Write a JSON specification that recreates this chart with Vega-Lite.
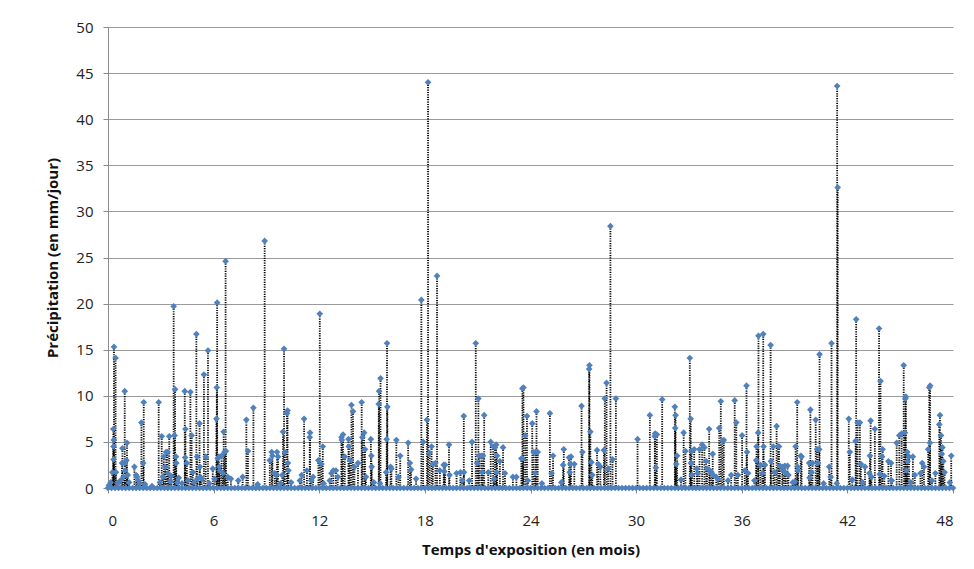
{
  "$schema": "https://vega.github.io/schema/vega-lite/v6.json",
  "width": 845,
  "height": 461,
  "autosize": "none",
  "padding": {"left": 108, "top": 27, "right": 21, "bottom": 81},
  "background": "white",
  "config": {
    "view": {"stroke": null},
    "font": "Open Sans",
    "axis": {"labelFont": "Open Sans", "titleFont": "Open Sans", "labelColor": "#222", "titleColor": "#111"}
  },
  "datasets": {
    "rain": [
      {"mois":0.05,"precip":0.3},{"mois":0.15,"precip":0.6},{"mois":0.25,"precip":1.7},{"mois":0.3,"precip":6.4},{"mois":0.31,"precip":4.5},{"mois":0.32,"precip":3.1},{"mois":0.33,"precip":5.2},{"mois":0.34,"precip":15.3},{"mois":0.43,"precip":14.1},{"mois":0.45,"precip":1.7},{"mois":0.55,"precip":0.5},{"mois":0.7,"precip":0.8},{"mois":0.8,"precip":2.7},{"mois":0.82,"precip":4.3},{"mois":0.88,"precip":1.2},{"mois":0.95,"precip":10.5},{"mois":0.96,"precip":2.7},{"mois":0.97,"precip":1.9},{"mois":1.05,"precip":3.0},{"mois":1.08,"precip":4.9},{"mois":1.12,"precip":1.4},{"mois":1.2,"precip":0.6},{"mois":1.5,"precip":2.3},{"mois":1.6,"precip":1.4},{"mois":1.65,"precip":1.2},{"mois":1.72,"precip":0.8},{"mois":1.8,"precip":0.5},{"mois":1.9,"precip":7.1},{"mois":2.0,"precip":2.7},{"mois":2.03,"precip":9.3},{"mois":2.1,"precip":0.4},{"mois":2.5,"precip":0.2},
      {"mois":2.88,"precip":9.3},{"mois":2.95,"precip":0.6},{"mois":3.05,"precip":5.6},{"mois":3.12,"precip":1.2},{"mois":3.17,"precip":3.4},{"mois":3.25,"precip":2.3},{"mois":3.3,"precip":3.9},{"mois":3.38,"precip":3.9},{"mois":3.4,"precip":1.6},{"mois":3.48,"precip":5.6},{"mois":3.55,"precip":0.7},{"mois":3.6,"precip":1.3},{"mois":3.73,"precip":19.7},{"mois":3.78,"precip":5.7},{"mois":3.81,"precip":10.7},{"mois":3.86,"precip":3.4},{"mois":3.88,"precip":2.7},{"mois":3.95,"precip":0.6},{"mois":4.02,"precip":1.1},{"mois":4.2,"precip":0.5},{"mois":4.36,"precip":10.5},{"mois":4.38,"precip":3.3},{"mois":4.4,"precip":6.4},{"mois":4.48,"precip":2.7},{"mois":4.55,"precip":0.8},{"mois":4.68,"precip":10.4},{"mois":4.75,"precip":5.7},{"mois":4.82,"precip":1.7},{"mois":4.9,"precip":0.6},{"mois":5.02,"precip":16.7},{"mois":5.06,"precip":3.4},{"mois":5.08,"precip":1.0},{"mois":5.2,"precip":7.0},{"mois":5.22,"precip":2.3},{"mois":5.25,"precip":1.2},{"mois":5.32,"precip":1.0},{"mois":5.45,"precip":12.3},{"mois":5.55,"precip":3.4},{"mois":5.68,"precip":14.9},{"mois":5.75,"precip":0.5},{"mois":5.95,"precip":2.1},{"mois":6.05,"precip":1.0},{"mois":6.16,"precip":7.5},{"mois":6.18,"precip":10.9},{"mois":6.2,"precip":20.1},{"mois":6.24,"precip":3.2},{"mois":6.3,"precip":3.4},{"mois":6.32,"precip":2.3},{"mois":6.35,"precip":1.9},{"mois":6.45,"precip":3.5},{"mois":6.52,"precip":1.6},{"mois":6.57,"precip":6.1},{"mois":6.62,"precip":3.9},{"mois":6.68,"precip":24.6},{"mois":6.7,"precip":4.0},{"mois":6.8,"precip":1.2},{"mois":6.98,"precip":1.0},
      {"mois":7.4,"precip":0.8},{"mois":7.65,"precip":1.2},{"mois":7.86,"precip":7.4},{"mois":7.95,"precip":4.0},{"mois":8.26,"precip":8.7},{"mois":8.5,"precip":0.4},{"mois":8.9,"precip":26.8},{"mois":9.19,"precip":3.0},{"mois":9.3,"precip":3.9},{"mois":9.34,"precip":3.5},{"mois":9.47,"precip":1.6},{"mois":9.56,"precip":1.4},{"mois":9.6,"precip":3.9},{"mois":9.66,"precip":3.4},{"mois":9.8,"precip":0.5},{"mois":9.9,"precip":1.4},{"mois":9.94,"precip":6.1},{"mois":10.0,"precip":15.1},{"mois":10.05,"precip":3.9},{"mois":10.17,"precip":8.1},{"mois":10.2,"precip":8.4},{"mois":10.22,"precip":2.7},{"mois":10.25,"precip":1.9},{"mois":10.4,"precip":0.6},{"mois":10.9,"precip":0.8},{"mois":11.0,"precip":1.4},{"mois":11.14,"precip":7.5},{"mois":11.3,"precip":1.9},{"mois":11.46,"precip":5.5},{"mois":11.48,"precip":6.0},{"mois":11.55,"precip":0.8},{"mois":11.65,"precip":1.2},{"mois":11.95,"precip":3.0},{"mois":12.03,"precip":18.9},{"mois":12.12,"precip":2.6},{"mois":12.2,"precip":4.5},{"mois":12.25,"precip":0.5},{"mois":12.6,"precip":0.8},{"mois":12.69,"precip":1.6},{"mois":12.8,"precip":1.9},{"mois":12.95,"precip":1.9},{"mois":13.05,"precip":1.2},{"mois":13.26,"precip":5.5},{"mois":13.28,"precip":5.2},{"mois":13.35,"precip":5.8},{"mois":13.45,"precip":3.4},{"mois":13.66,"precip":5.3},{"mois":13.68,"precip":4.5},{"mois":13.75,"precip":3.0},{"mois":13.83,"precip":9.0},{"mois":13.92,"precip":8.3},{"mois":14.0,"precip":2.3},{"mois":14.2,"precip":2.7},{"mois":14.41,"precip":9.3},{"mois":14.45,"precip":5.5},{"mois":14.55,"precip":6.0},{"mois":14.6,"precip":4.2},{"mois":14.65,"precip":1.2},{"mois":14.93,"precip":5.3},{"mois":14.96,"precip":3.5},{"mois":14.98,"precip":2.3},{"mois":15.1,"precip":0.6},{"mois":15.38,"precip":9.1},{"mois":15.4,"precip":10.5},{"mois":15.45,"precip":0.5},{"mois":15.48,"precip":11.9},{"mois":15.8,"precip":1.7},{"mois":15.83,"precip":5.3},{"mois":15.85,"precip":15.7},{"mois":15.87,"precip":8.8},{"mois":16.05,"precip":2.3},{"mois":16.1,"precip":2.1},{"mois":16.38,"precip":5.2},{"mois":16.5,"precip":1.2},{"mois":16.6,"precip":3.5},{"mois":17.05,"precip":4.9},{"mois":17.15,"precip":2.7},{"mois":17.22,"precip":2.0},{"mois":17.5,"precip":1.0},{"mois":17.8,"precip":20.4},{"mois":17.9,"precip":5.0},{"mois":18.12,"precip":7.4},{"mois":18.18,"precip":44.0},{"mois":18.27,"precip":3.8},{"mois":18.38,"precip":4.5},{"mois":18.45,"precip":2.6},{"mois":18.6,"precip":2.7},{"mois":18.69,"precip":23.0},{"mois":18.85,"precip":1.9},
      {"mois":19.07,"precip":2.5},{"mois":19.1,"precip":1.8},{"mois":19.15,"precip":2.5},{"mois":19.37,"precip":4.7},{"mois":19.4,"precip":1.4},{"mois":19.8,"precip":1.6},{"mois":20.02,"precip":1.7},{"mois":20.12,"precip":0.8},{"mois":20.21,"precip":7.8},{"mois":20.22,"precip":1.7},{"mois":20.52,"precip":0.8},{"mois":20.68,"precip":5.0},{"mois":20.89,"precip":15.7},{"mois":20.97,"precip":2.7},{"mois":21.04,"precip":9.7},{"mois":21.08,"precip":3.5},{"mois":21.2,"precip":3.5},{"mois":21.25,"precip":1.7},{"mois":21.3,"precip":3.5},{"mois":21.37,"precip":7.9},{"mois":21.6,"precip":1.7},{"mois":21.74,"precip":5.0},{"mois":21.88,"precip":4.5},{"mois":21.93,"precip":1.0},{"mois":21.98,"precip":4.4},{"mois":22.05,"precip":4.7},{"mois":22.08,"precip":1.7},{"mois":22.1,"precip":3.5},{"mois":22.26,"precip":2.9},{"mois":22.44,"precip":4.4},{"mois":22.55,"precip":1.6},{"mois":23.0,"precip":1.2},{"mois":23.2,"precip":1.2},{"mois":23.48,"precip":3.2},{"mois":23.54,"precip":10.8},{"mois":23.57,"precip":3.2},{"mois":23.6,"precip":10.9},{"mois":23.7,"precip":5.7},{"mois":23.8,"precip":7.8},{"mois":23.85,"precip":0.8},{"mois":24.1,"precip":7.0},{"mois":24.18,"precip":3.9},{"mois":24.26,"precip":1.6},{"mois":24.3,"precip":3.9},{"mois":24.34,"precip":8.3},{"mois":24.41,"precip":3.9},{"mois":24.65,"precip":0.5},{"mois":25.1,"precip":8.1},{"mois":25.2,"precip":1.6},{"mois":25.28,"precip":3.5},{"mois":25.75,"precip":0.6},{"mois":25.85,"precip":2.5},{"mois":25.89,"precip":4.2},{"mois":26.19,"precip":3.3},{"mois":26.23,"precip":1.7},{"mois":26.26,"precip":2.6},{"mois":26.3,"precip":3.4},{"mois":26.49,"precip":2.6},{"mois":26.9,"precip":8.9},{"mois":26.95,"precip":3.9},{"mois":27.33,"precip":12.9},{"mois":27.35,"precip":13.3},{"mois":27.4,"precip":6.1},{"mois":27.46,"precip":2.8},{"mois":27.51,"precip":1.4},{"mois":27.78,"precip":4.1},{"mois":27.85,"precip":2.6},{"mois":27.97,"precip":2.3},{"mois":28.17,"precip":4.1},{"mois":28.22,"precip":9.7},{"mois":28.32,"precip":11.4},{"mois":28.41,"precip":2.1},{"mois":28.54,"precip":28.4},{"mois":28.66,"precip":3.1},{"mois":28.85,"precip":9.7},
      {"mois":30.08,"precip":5.3},{"mois":30.78,"precip":7.9},{"mois":31.06,"precip":5.6},{"mois":31.08,"precip":5.9},{"mois":31.12,"precip":2.2},{"mois":31.18,"precip":5.8},{"mois":31.48,"precip":9.6},{"mois":32.2,"precip":8.8},{"mois":32.22,"precip":6.5},{"mois":32.24,"precip":7.9},{"mois":32.28,"precip":2.6},{"mois":32.33,"precip":3.5},{"mois":32.55,"precip":0.9},{"mois":32.7,"precip":6.0},{"mois":32.8,"precip":4.0},{"mois":33.05,"precip":14.1},{"mois":33.1,"precip":7.5},{"mois":33.12,"precip":2.7},{"mois":33.15,"precip":4.0},{"mois":33.17,"precip":1.4},{"mois":33.3,"precip":4.2},{"mois":33.45,"precip":2.1},{"mois":33.5,"precip":1.6},{"mois":33.6,"precip":4.2},{"mois":33.75,"precip":4.7},{"mois":33.88,"precip":4.4},{"mois":33.98,"precip":2.9},{"mois":34.03,"precip":2.1},{"mois":34.15,"precip":6.4},{"mois":34.19,"precip":1.9},{"mois":34.28,"precip":1.7},{"mois":34.35,"precip":3.7},{"mois":34.38,"precip":1.4},{"mois":34.55,"precip":1.2},{"mois":34.65,"precip":1.0},{"mois":34.72,"precip":6.5},{"mois":34.81,"precip":9.4},{"mois":34.9,"precip":5.1},{"mois":34.98,"precip":5.2},{"mois":35.22,"precip":0.8},{"mois":35.4,"precip":1.4},{"mois":35.6,"precip":9.5},{"mois":35.69,"precip":7.1},{"mois":35.78,"precip":1.4},{"mois":36.02,"precip":5.7},{"mois":36.17,"precip":1.9},{"mois":36.27,"precip":11.1},{"mois":36.3,"precip":3.9},{"mois":36.36,"precip":1.6},{"mois":36.72,"precip":0.8},{"mois":36.82,"precip":3.0},{"mois":36.84,"precip":4.5},{"mois":36.93,"precip":6.0},{"mois":36.95,"precip":16.5},{"mois":37.06,"precip":2.5},{"mois":37.17,"precip":1.6},{"mois":37.22,"precip":16.7},{"mois":37.24,"precip":4.5},{"mois":37.32,"precip":2.5},{"mois":37.64,"precip":15.5},{"mois":37.66,"precip":2.9},{"mois":37.79,"precip":4.5},{"mois":37.87,"precip":1.7},{"mois":37.98,"precip":6.7},{"mois":38.07,"precip":4.5},{"mois":38.12,"precip":4.5},{"mois":38.17,"precip":2.4},{"mois":38.3,"precip":2.3},{"mois":38.36,"precip":1.9},{"mois":38.45,"precip":2.4},{"mois":38.5,"precip":1.6},{"mois":38.6,"precip":2.4},{"mois":38.65,"precip":1.4},{"mois":38.9,"precip":0.6},{"mois":39.02,"precip":0.7},{"mois":39.06,"precip":4.5},{"mois":39.15,"precip":9.3},{"mois":39.17,"precip":2.3},{"mois":39.2,"precip":1.9},{"mois":39.35,"precip":3.5},{"mois":39.4,"precip":3.4},{"mois":39.83,"precip":2.7},{"mois":39.85,"precip":1.1},{"mois":39.9,"precip":8.5},{"mois":39.96,"precip":1.7},{"mois":40.02,"precip":2.7},{"mois":40.2,"precip":7.4},{"mois":40.28,"precip":4.2},{"mois":40.33,"precip":2.7},{"mois":40.4,"precip":4.2},{"mois":40.42,"precip":14.5},{"mois":40.65,"precip":0.5},{"mois":40.97,"precip":2.3},{"mois":41.05,"precip":1.2},{"mois":41.1,"precip":15.7},{"mois":41.4,"precip":0.5},{"mois":41.42,"precip":43.6},{"mois":41.45,"precip":32.6},
      {"mois":42.08,"precip":7.5},{"mois":42.14,"precip":3.9},{"mois":42.28,"precip":0.9},{"mois":42.47,"precip":5.1},{"mois":42.5,"precip":18.3},{"mois":42.58,"precip":7.1},{"mois":42.71,"precip":7.1},{"mois":42.77,"precip":2.6},{"mois":42.87,"precip":0.6},{"mois":43.0,"precip":2.3},{"mois":43.25,"precip":1.6},{"mois":43.28,"precip":3.5},{"mois":43.32,"precip":7.3},{"mois":43.37,"precip":1.2},{"mois":43.56,"precip":6.4},{"mois":43.8,"precip":17.3},{"mois":43.84,"precip":1.5},{"mois":43.88,"precip":11.6},{"mois":43.97,"precip":3.4},{"mois":44.0,"precip":4.2},{"mois":44.1,"precip":1.3},{"mois":44.33,"precip":2.9},{"mois":44.48,"precip":2.7},{"mois":44.52,"precip":0.8},{"mois":44.8,"precip":4.9},{"mois":44.95,"precip":5.7},{"mois":45.08,"precip":5.9},{"mois":45.2,"precip":13.3},{"mois":45.27,"precip":6.0},{"mois":45.3,"precip":9.7},{"mois":45.32,"precip":9.9},{"mois":45.36,"precip":1.9},{"mois":45.4,"precip":3.9},{"mois":45.42,"precip":2.9},{"mois":45.5,"precip":3.4},{"mois":45.6,"precip":0.6},{"mois":45.72,"precip":3.4},{"mois":45.83,"precip":1.4},{"mois":46.15,"precip":1.6},{"mois":46.25,"precip":2.7},{"mois":46.35,"precip":2.3},{"mois":46.59,"precip":4.2},{"mois":46.65,"precip":10.9},{"mois":46.69,"precip":4.9},{"mois":46.7,"precip":11.1},{"mois":46.8,"precip":0.8},{"mois":47.0,"precip":1.6},{"mois":47.22,"precip":6.9},{"mois":47.26,"precip":7.9},{"mois":47.32,"precip":5.7},{"mois":47.36,"precip":3.7},{"mois":47.4,"precip":4.4},{"mois":47.45,"precip":2.9},{"mois":47.52,"precip":1.7},{"mois":47.82,"precip":0.6},{"mois":47.9,"precip":3.5}
    ],
    "zero": [
      {"mois":0,"precip":0},{"mois":0.2,"precip":0},{"mois":0.4,"precip":0},{"mois":0.6,"precip":0},{"mois":0.8,"precip":0},{"mois":1,"precip":0},{"mois":1.2,"precip":0},{"mois":1.4,"precip":0},{"mois":1.6,"precip":0},{"mois":1.8,"precip":0},
      {"mois":2,"precip":0},{"mois":2.2,"precip":0},{"mois":2.4,"precip":0},{"mois":2.6,"precip":0},{"mois":2.8,"precip":0},{"mois":3,"precip":0},{"mois":3.2,"precip":0},{"mois":3.4,"precip":0},{"mois":3.6,"precip":0},{"mois":3.8,"precip":0},
      {"mois":4,"precip":0},{"mois":4.2,"precip":0},{"mois":4.4,"precip":0},{"mois":4.6,"precip":0},{"mois":4.8,"precip":0},{"mois":5,"precip":0},{"mois":5.2,"precip":0},{"mois":5.4,"precip":0},{"mois":5.6,"precip":0},{"mois":5.8,"precip":0},
      {"mois":6,"precip":0},{"mois":6.2,"precip":0},{"mois":6.4,"precip":0},{"mois":6.6,"precip":0},{"mois":6.8,"precip":0},{"mois":7,"precip":0},{"mois":7.2,"precip":0},{"mois":7.4,"precip":0},{"mois":7.6,"precip":0},{"mois":7.8,"precip":0},
      {"mois":8,"precip":0},{"mois":8.2,"precip":0},{"mois":8.4,"precip":0},{"mois":8.6,"precip":0},{"mois":8.8,"precip":0},{"mois":9,"precip":0},{"mois":9.2,"precip":0},{"mois":9.4,"precip":0},{"mois":9.6,"precip":0},{"mois":9.8,"precip":0},
      {"mois":10,"precip":0},{"mois":10.2,"precip":0},{"mois":10.4,"precip":0},{"mois":10.6,"precip":0},{"mois":10.8,"precip":0},{"mois":11,"precip":0},{"mois":11.2,"precip":0},{"mois":11.4,"precip":0},{"mois":11.6,"precip":0},{"mois":11.8,"precip":0},
      {"mois":12,"precip":0},{"mois":12.2,"precip":0},{"mois":12.4,"precip":0},{"mois":12.6,"precip":0},{"mois":12.8,"precip":0},{"mois":13,"precip":0},{"mois":13.2,"precip":0},{"mois":13.4,"precip":0},{"mois":13.6,"precip":0},{"mois":13.8,"precip":0},
      {"mois":14,"precip":0},{"mois":14.2,"precip":0},{"mois":14.4,"precip":0},{"mois":14.6,"precip":0},{"mois":14.8,"precip":0},{"mois":15,"precip":0},{"mois":15.2,"precip":0},{"mois":15.4,"precip":0},{"mois":15.6,"precip":0},{"mois":15.8,"precip":0},
      {"mois":16,"precip":0},{"mois":16.2,"precip":0},{"mois":16.4,"precip":0},{"mois":16.6,"precip":0},{"mois":16.8,"precip":0},{"mois":17,"precip":0},{"mois":17.2,"precip":0},{"mois":17.4,"precip":0},{"mois":17.6,"precip":0},{"mois":17.8,"precip":0},
      {"mois":18,"precip":0},{"mois":18.2,"precip":0},{"mois":18.4,"precip":0},{"mois":18.6,"precip":0},{"mois":18.8,"precip":0},{"mois":19,"precip":0},{"mois":19.2,"precip":0},{"mois":19.4,"precip":0},{"mois":19.6,"precip":0},{"mois":19.8,"precip":0},
      {"mois":20,"precip":0},{"mois":20.2,"precip":0},{"mois":20.4,"precip":0},{"mois":20.6,"precip":0},{"mois":20.8,"precip":0},{"mois":21,"precip":0},{"mois":21.2,"precip":0},{"mois":21.4,"precip":0},{"mois":21.6,"precip":0},{"mois":21.8,"precip":0},
      {"mois":22,"precip":0},{"mois":22.2,"precip":0},{"mois":22.4,"precip":0},{"mois":22.6,"precip":0},{"mois":22.8,"precip":0},{"mois":23,"precip":0},{"mois":23.2,"precip":0},{"mois":23.4,"precip":0},{"mois":23.6,"precip":0},{"mois":23.8,"precip":0},
      {"mois":24,"precip":0},{"mois":24.2,"precip":0},{"mois":24.4,"precip":0},{"mois":24.6,"precip":0},{"mois":24.8,"precip":0},{"mois":25,"precip":0},{"mois":25.2,"precip":0},{"mois":25.4,"precip":0},{"mois":25.6,"precip":0},{"mois":25.8,"precip":0},
      {"mois":26,"precip":0},{"mois":26.2,"precip":0},{"mois":26.4,"precip":0},{"mois":26.6,"precip":0},{"mois":26.8,"precip":0},{"mois":27,"precip":0},{"mois":27.2,"precip":0},{"mois":27.4,"precip":0},{"mois":27.6,"precip":0},{"mois":27.8,"precip":0},
      {"mois":28,"precip":0},{"mois":28.2,"precip":0},{"mois":28.4,"precip":0},{"mois":28.6,"precip":0},{"mois":28.8,"precip":0},{"mois":29,"precip":0},{"mois":29.2,"precip":0},{"mois":29.4,"precip":0},{"mois":29.6,"precip":0},{"mois":29.8,"precip":0},
      {"mois":30,"precip":0},{"mois":30.2,"precip":0},{"mois":30.4,"precip":0},{"mois":30.6,"precip":0},{"mois":30.8,"precip":0},{"mois":31,"precip":0},{"mois":31.2,"precip":0},{"mois":31.4,"precip":0},{"mois":31.6,"precip":0},{"mois":31.8,"precip":0},
      {"mois":32,"precip":0},{"mois":32.2,"precip":0},{"mois":32.4,"precip":0},{"mois":32.6,"precip":0},{"mois":32.8,"precip":0},{"mois":33,"precip":0},{"mois":33.2,"precip":0},{"mois":33.4,"precip":0},{"mois":33.6,"precip":0},{"mois":33.8,"precip":0},
      {"mois":34,"precip":0},{"mois":34.2,"precip":0},{"mois":34.4,"precip":0},{"mois":34.6,"precip":0},{"mois":34.8,"precip":0},{"mois":35,"precip":0},{"mois":35.2,"precip":0},{"mois":35.4,"precip":0},{"mois":35.6,"precip":0},{"mois":35.8,"precip":0},
      {"mois":36,"precip":0},{"mois":36.2,"precip":0},{"mois":36.4,"precip":0},{"mois":36.6,"precip":0},{"mois":36.8,"precip":0},{"mois":37,"precip":0},{"mois":37.2,"precip":0},{"mois":37.4,"precip":0},{"mois":37.6,"precip":0},{"mois":37.8,"precip":0},
      {"mois":38,"precip":0},{"mois":38.2,"precip":0},{"mois":38.4,"precip":0},{"mois":38.6,"precip":0},{"mois":38.8,"precip":0},{"mois":39,"precip":0},{"mois":39.2,"precip":0},{"mois":39.4,"precip":0},{"mois":39.6,"precip":0},{"mois":39.8,"precip":0},
      {"mois":40,"precip":0},{"mois":40.2,"precip":0},{"mois":40.4,"precip":0},{"mois":40.6,"precip":0},{"mois":40.8,"precip":0},{"mois":41,"precip":0},{"mois":41.2,"precip":0},{"mois":41.4,"precip":0},{"mois":41.6,"precip":0},{"mois":41.8,"precip":0},
      {"mois":42,"precip":0},{"mois":42.2,"precip":0},{"mois":42.4,"precip":0},{"mois":42.6,"precip":0},{"mois":42.8,"precip":0},{"mois":43,"precip":0},{"mois":43.2,"precip":0},{"mois":43.4,"precip":0},{"mois":43.6,"precip":0},{"mois":43.8,"precip":0},
      {"mois":44,"precip":0},{"mois":44.2,"precip":0},{"mois":44.4,"precip":0},{"mois":44.6,"precip":0},{"mois":44.8,"precip":0},{"mois":45,"precip":0},{"mois":45.2,"precip":0},{"mois":45.4,"precip":0},{"mois":45.6,"precip":0},{"mois":45.8,"precip":0},
      {"mois":46,"precip":0},{"mois":46.2,"precip":0},{"mois":46.4,"precip":0},{"mois":46.6,"precip":0},{"mois":46.8,"precip":0},{"mois":47,"precip":0},{"mois":47.2,"precip":0},{"mois":47.4,"precip":0},{"mois":47.6,"precip":0},{"mois":47.8,"precip":0},{"mois":48,"precip":0}
    ]
  },
  "encoding": {
    "x": {
      "field": "mois", "type": "quantitative",
      "scale": {"domain": [0, 48], "nice": false, "zero": false},
      "axis": {
        "values": [0, 6, 12, 18, 24, 30, 36, 42, 48],
        "title": "Temps d'exposition (en mois)",
        "grid": false, "labelFontSize": 15, "labelPadding": 20, "tickSize": 5,
        "tickColor": "#8a8a8a", "domainColor": "#8a8a8a",
        "titleFontSize": 15, "titleFontWeight": "bold", "titlePadding": 14
      }
    },
    "y": {
      "field": "precip", "type": "quantitative",
      "scale": {"domain": [0, 50], "nice": false},
      "axis": {
        "values": [0, 5, 10, 15, 20, 25, 30, 35, 40, 45, 50],
        "title": "Précipitation (en mm/jour)",
        "grid": true, "gridColor": "#9a9a9a", "gridWidth": 1,
        "labelFontSize": 15, "labelPadding": 10, "tickSize": 5,
        "tickColor": "#8a8a8a", "domainColor": "#8a8a8a",
        "titleFontSize": 15, "titleFontWeight": "bold", "titlePadding": 15
      }
    }
  },
  "layer": [
    {
      "data": {"name": "rain"},
      "mark": {"type": "rule", "color": "#000000", "strokeWidth": 1.8, "strokeDash": [1.2, 1.2]},
      "encoding": {"y2": {"datum": 0}}
    },
    {
      "data": {"name": "zero"},
      "mark": {"type": "point", "shape": "diamond", "filled": true, "color": "#4F81BD", "size": 45, "opacity": 1}
    },
    {
      "data": {"name": "rain"},
      "mark": {"type": "point", "shape": "diamond", "filled": true, "color": "#4F81BD", "size": 45, "opacity": 1}
    }
  ]
}
